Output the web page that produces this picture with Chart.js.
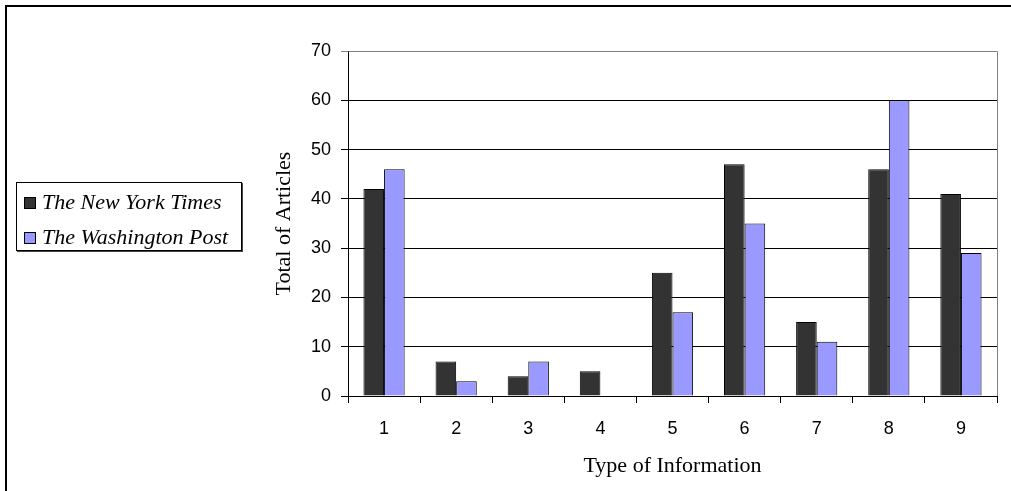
<!DOCTYPE html>
<html>
<head>
<meta charset="utf-8">
<script src="https://cdn.jsdelivr.net/npm/chart.js@4/dist/chart.umd.min.js"></script>
<style>
  html, body { margin: 0; padding: 0; background: #fff; }
  #wrap { position: relative; width: 1011px; height: 491px; overflow: hidden; }
  #frame { position: absolute; left: 5px; top: 5px; width: 1100px; height: 600px;
           border-left: 2px solid #000; border-top: 2px solid #000; }
  #c { position: absolute; left: 0; top: 0; }
  #legend { position: absolute; left: 16px; top: 182px; width: 224px; height: 67px;
            border: 1px solid #000; box-shadow: 1px 1px 0 #444; background: #fff;
            font-family: "Liberation Serif", "Times New Roman", serif; font-style: italic;
            font-size: 22px; color: #000; }
  .item { position: absolute; left: 7px; height: 22px; line-height: 22px; white-space: nowrap; }
  .sw { display: inline-block; width: 10px; height: 10px; border: 1px solid #000;
        vertical-align: middle; margin-right: 6px; position: relative; top: -1px; }
</style>
</head>
<body>
<div id="wrap">
  <div id="frame"></div>
  <canvas id="c" width="1011" height="491"></canvas>
  <div id="legend"></div>
</div>
<script>
const categories = ['1', '2', '3', '4', '5', '6', '7', '8', '9'];
const seriesNames = ['The New York Times', 'The Washington Post'];
const nytValues = [42, 7, 4, 5, 25, 47, 15, 46, 41];
const wpValues = [46, 3, 7, 0, 17, 35, 11, 60, 29];
const seriesColors = ['#333333', '#9999FF'];
const yTicks = [0, 10, 20, 30, 40, 50, 60, 70];
const xTitle = 'Type of Information';
const yTitle = 'Total of Articles';

// HTML legend
const leg = document.getElementById('legend');
seriesNames.forEach((n, i) => {
  const d = document.createElement('div');
  d.className = 'item';
  d.style.top = (i === 0 ? 8 : 43) + 'px';
  const s = document.createElement('span');
  s.className = 'sw';
  s.style.background = seriesColors[i];
  d.appendChild(s);
  d.appendChild(document.createTextNode(n));
  leg.appendChild(d);
});

const plotBorder = {
  id: 'plotBorder',
  afterDraw(chart) {
    const a = chart.chartArea, ctx = chart.ctx;
    ctx.save();
    ctx.strokeStyle = '#808080';
    ctx.lineWidth = 1;
    ctx.beginPath();
    ctx.moveTo(Math.round(a.left) + 0.5, Math.round(a.top) + 0.5);
    ctx.lineTo(Math.round(a.right) + 0.5, Math.round(a.top) + 0.5);
    ctx.lineTo(Math.round(a.right) + 0.5, Math.round(a.bottom));
    ctx.stroke();
    ctx.restore();
  }
};

const sans = "'Liberation Sans', Arial, sans-serif";
const serif = "'Liberation Serif', 'Times New Roman', serif";

new Chart(document.getElementById('c'), {
  type: 'bar',
  data: {
    labels: categories,
    datasets: [
      { label: seriesNames[0], data: nytValues, backgroundColor: seriesColors[0],
        borderColor: '#000', borderWidth: 1, borderSkipped: 'bottom' },
      { label: seriesNames[1], data: wpValues, backgroundColor: seriesColors[1],
        borderColor: '#000', borderWidth: 1, borderSkipped: 'bottom' }
    ]
  },
  options: {
    responsive: false,
    animation: false,
    devicePixelRatio: 1,
    layout: { padding: { left: 271, top: 51, right: 14, bottom: 12 } },
    plugins: { legend: { display: false }, tooltip: { enabled: false } },
    datasets: { bar: { categoryPercentage: 2 / 3.5, barPercentage: 1 } },
    scales: {
      x: {
        grid: { offset: true, drawOnChartArea: false, drawTicks: true, tickLength: 7,
                color: '#000', lineWidth: 1 },
        border: { display: true, color: '#000', width: 1 },
        ticks: { color: '#000', font: { family: sans, size: 18 }, padding: 15, maxRotation: 0 },
        title: { display: true, text: xTitle, color: '#000',
                 font: { family: serif, size: 22 }, padding: 0 },
        afterFit(s) { s.height = 83; }
      },
      y: {
        min: 0, max: 70,
        afterBuildTicks(s) { s.ticks = yTicks.map(v => ({ value: v })); },
        grid: { color: (c) => (c.tick && c.tick.value === 70 ? '#808080' : '#000'),
                lineWidth: 1, tickLength: 7, drawTicks: true },
        border: { display: true, color: '#000', width: 1 },
        ticks: { color: '#000', font: { family: sans, size: 18 }, padding: 10 },
        title: { display: true, text: yTitle, color: '#000',
                 font: { family: serif, size: 22 }, padding: 0 },
        afterFit(s) { s.width = 77; }
      }
    }
  },
  plugins: [plotBorder]
});
</script>
</body>
</html>
